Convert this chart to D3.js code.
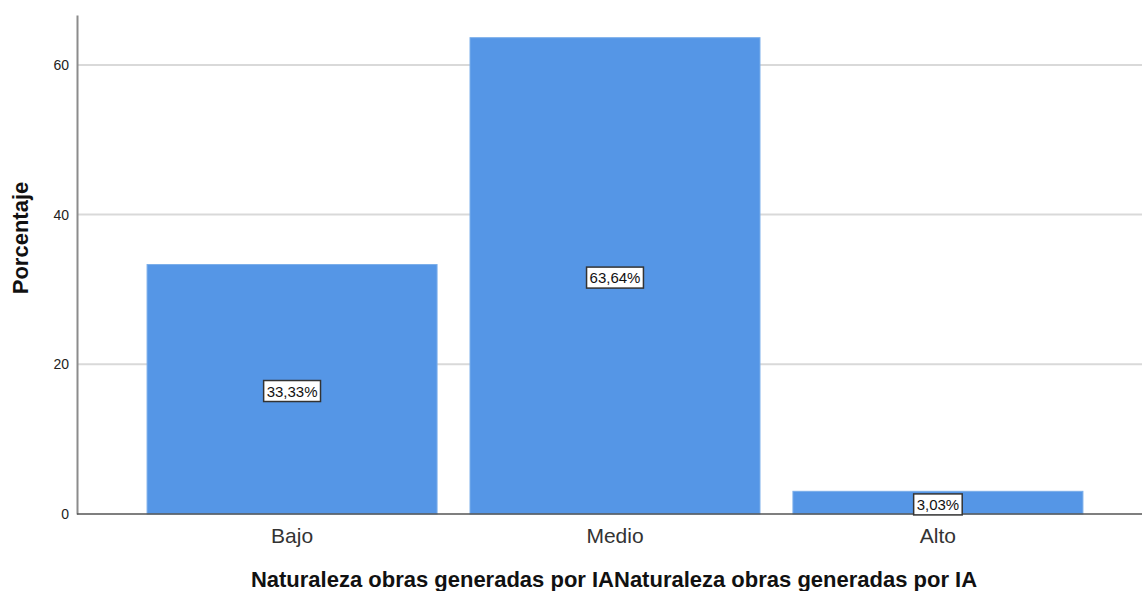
<!DOCTYPE html>
<html>
<head>
<meta charset="utf-8">
<script src="https://cdn.jsdelivr.net/npm/d3@7"></script>
<style>
  body { margin: 0; background: #fff; }
  svg text { font-family: Arial, "Liberation Sans", sans-serif; }
</style>
</head>
<body>
<div id="chart"></div>
<script>
var categories = ['Bajo', 'Medio', 'Alto'];
var percentages = [33.33, 63.64, 3.03];
var yTicks = [0, 20, 40, 60];

var W = 1142, H = 591;
var margin = { top: 15, left: 77, bottom: 77 };
var plotBottom = H - margin.bottom;

var svg = d3.select('#chart').append('svg')
  .attr('width', W)
  .attr('height', H);

var x = d3.scaleBand()
  .domain(categories)
  .range([margin.left, 1153])
  .paddingInner(0.102)
  .paddingOuter(0.217);

var y = d3.scaleLinear()
  .domain([0, 66.67])
  .range([plotBottom, margin.top]);

// gridlines
svg.append('g')
  .selectAll('line')
  .data(yTicks.filter(function(d) { return d > 0; }))
  .join('line')
  .attr('x1', margin.left)
  .attr('x2', W)
  .attr('y1', function(d) { return y(d); })
  .attr('y2', function(d) { return y(d); })
  .attr('stroke', '#d9d9d9')
  .attr('stroke-width', 2);

// bars
svg.append('g')
  .selectAll('rect')
  .data(percentages)
  .join('rect')
  .attr('x', function(d, i) { return x(categories[i]); })
  .attr('y', function(d) { return y(d); })
  .attr('width', x.bandwidth())
  .attr('height', function(d) { return plotBottom - y(d); })
  .attr('fill', '#5596e6')
  .attr('stroke', '#7aaeea')
  .attr('stroke-width', 1);

// y axis
var yAxis = d3.axisLeft(y)
  .tickValues(yTicks)
  .tickSize(0)
  .tickPadding(8);
var ya = svg.append('g')
  .attr('transform', 'translate(' + margin.left + ',0)')
  .call(yAxis);
ya.select('.domain').attr('stroke', '#8c8c8c').attr('stroke-width', 2);
ya.selectAll('text').attr('font-size', 14).attr('fill', '#222');

// x axis
var xAxis = d3.axisBottom(x).tickSize(0).tickPadding(14);
var xa = svg.append('g')
  .attr('transform', 'translate(0,' + plotBottom + ')')
  .call(xAxis);
xa.select('.domain').attr('stroke', '#555').attr('stroke-width', 1.5)
  .attr('d', 'M' + margin.left + ',0H' + W);
xa.selectAll('text').attr('font-size', 21).attr('fill', '#333');

// data labels
var labels = svg.append('g')
  .selectAll('g')
  .data(percentages)
  .join('g')
  .attr('transform', function(d, i) {
    return 'translate(' + (x(categories[i]) + x.bandwidth() / 2) + ',' + ((y(d) + plotBottom) / 2 + 2) + ')';
  });
labels.append('text')
  .attr('text-anchor', 'middle')
  .attr('dy', '0.35em')
  .attr('font-size', 15)
  .attr('fill', '#111')
  .text(function(d) { return d.toFixed(2).replace('.', ',') + '%'; });
labels.each(function() {
  var g = d3.select(this);
  var bb = g.select('text').node().getBBox();
  g.insert('rect', 'text')
    .attr('x', bb.x - 3)
    .attr('y', bb.y - 2)
    .attr('width', bb.width + 6)
    .attr('height', bb.height + 4)
    .attr('fill', '#fff')
    .attr('stroke', '#333')
    .attr('stroke-width', 1.5);
});

// axis titles
svg.append('text')
  .attr('transform', 'translate(28,238) rotate(-90)')
  .attr('text-anchor', 'middle')
  .attr('font-size', 22)
  .attr('font-weight', 'bold')
  .attr('fill', '#111')
  .text('Porcentaje');

svg.append('text')
  .attr('x', 614)
  .attr('y', 587)
  .attr('text-anchor', 'middle')
  .attr('font-size', 22)
  .attr('font-weight', 'bold')
  .attr('fill', '#111')
  .text('Naturaleza obras generadas por IANaturaleza obras generadas por IA');
</script>
</body>
</html>
